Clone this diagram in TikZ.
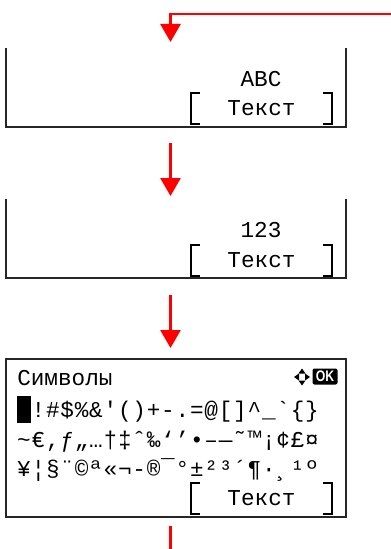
\documentclass[tikz,border=0pt]{standalone}
\usepackage{fontspec}
\newfontfamily\lcdfont{Liberation Mono}
\newfontfamily\okfont{Liberation Sans}[FakeStretch=0.8]
\usetikzlibrary{arrows.meta,positioning}

\begin{document}
\begin{tikzpicture}[
    x=0.75pt, y=-0.75pt,
    font=\lcdfont\fontsize{17}{17}\selectfont,
    screen/.style={inner sep=0pt, outer sep=0pt, minimum width=255pt},
    frame/.style={draw=black!85, line width=1pt},
    field/.style={inner sep=0pt, outer sep=0pt,
        minimum width=105.75pt, minimum height=23.25pt},
    brk/.style={line width=1.5pt},
    glyph/.style={anchor=base, inner sep=0pt},
    cursor/.style={fill=black, inner sep=0pt,
        minimum width=10.5pt, minimum height=20.25pt},
    okbox/.style={fill=black, text=white, rounded corners=1.5pt,
        inner sep=0pt, minimum width=18.75pt, minimum height=12pt,
        font=\okfont\bfseries\fontsize{11.5}{11.5}\selectfont},
    flow/.style={draw=red, line width=2pt,
        -{Triangle[width=15pt,length=13.5pt]}},
    wire/.style={draw=red, line width=2pt}
]
\useasboundingbox (0,0) rectangle (391,549);

% ============================================================
% SCREENS
% ============================================================
\node[screen, minimum height=59.25pt] (scr1) at (176,87.5) {};
\node[screen, minimum height=59.25pt] (scr2) at (176,238.5) {};
\node[screen, minimum height=118.5pt] (scr3) at (176,438) {};

\draw[frame] (scr1.north west) |- (scr1.south east) -- (scr1.north east);
\draw[frame] (scr2.north west) |- (scr2.south east) -- (scr2.north east);
\draw[frame] (scr3.north west) rectangle (scr3.south east);

% input mode
\node[glyph] (abc) at (261,87) {ABC};
\node[glyph] (num) at (261,237) {123};

% text fields with brackets
\node[field] (f1) at (261.5,108.5) {Текст};
\node[field] (f2) at (261.5,260) {Текст};
\node[field] (f3) at (261.5,498) {Текст};
\foreach \f in {f1,f2,f3} {
    \draw[brk] ([xshift=6.75pt]\f.north west) -- (\f.north west)
        -- (\f.south west) -- ([xshift=6.75pt]\f.south west);
    \draw[brk] ([xshift=-6.75pt]\f.north east) -- (\f.north east)
        -- (\f.south east) -- ([xshift=-6.75pt]\f.south east);
}

% ============================================================
% SYMBOL TABLE
% ============================================================
\node[anchor=base west, inner sep=0pt] (title) at (17,385) {Символы};

% navigation keys + OK
\coordinate (nav) at (302,377);
\fill (nav) ++(0,-8.5) -- ++(-3.5,5) -- ++(7,0) -- cycle;
\fill (nav) ++(0,8.5) -- ++(-3.5,-5) -- ++(7,0) -- cycle;
\fill (nav) ++(-8,0) -- ++(5,-3.5) -- ++(0,7) -- cycle;
\fill (nav) ++(8,0) -- ++(-5,-3.5) -- ++(0,7) -- cycle;
\node[okbox] (ok) at (325,376.5) {OK};

\node[cursor] (cur) at (24,409.5) {};
\foreach \c [count=\i] in {!,\#,\$,\%,\&,\symbol{39},{(},{)},+,-,.,=,@,{[},{]},%
        \symbol{94},\_,\symbol{96},\{,\}}
    \node[glyph] (ra\i) at (24+14.4*\i,417) {\c};
\foreach \c [count=\i from 0] in {\symbol{126},€,{,},ƒ,„,…,†,‡,ˆ,‰,‘,’,•,–,—,˜,™,¡,¢,£,¤}
    \node[glyph] (rb\i) at (24+14.4*\i,447) {\c};
\foreach \c [count=\i from 0] in {¥,¦,§,¨,©,ª,«,¬,-,®,¯,°,±,²,³,´,¶,·,¸,¹,º}
    \node[glyph] (rc\i) at (24+14.4*\i,476) {\c};

% ============================================================
% FLOW
% ============================================================
\coordinate (entry) at (391,14);
\coordinate (in1)   at (170.5,42);
\coordinate (out1)  at (170.5,143);
\coordinate (in2)   at (170.5,196);
\coordinate (out2)  at (170.5,295);
\coordinate (in3)   at (170.5,348);
\coordinate (out3)  at (170.5,526);
\coordinate (exit)  at (170.5,549);

\draw[flow] (entry) -| (in1);
\draw[flow] (out1) -- (in2);
\draw[flow] (out2) -- (in3);
\draw[wire] (out3) -- (exit);

\end{tikzpicture}
\end{document}
